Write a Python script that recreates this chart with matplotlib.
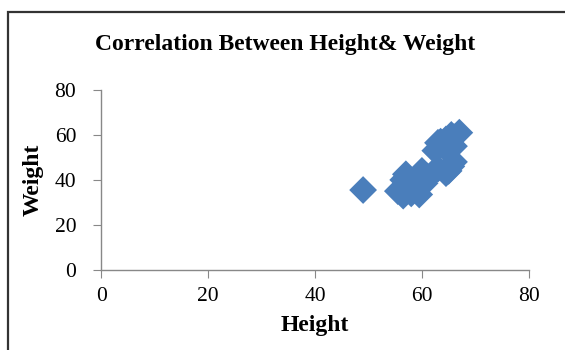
import matplotlib
matplotlib.use("Agg")
import matplotlib.pyplot as plt
from matplotlib.patches import Rectangle

title = "Correlation Between Height& Weight"
x_label = "Height"
y_label = "Weight"
ticks = [0, 20, 40, 60, 80]

height = [49, 55.5, 56.5, 57, 56.5, 57, 58, 59, 60.5, 60, 61, 62, 63, 59.5,
          64.5, 65.5, 66, 65,
          62.5, 63, 64, 64.5, 65, 66, 67, 66, 65.5, 63.5]
weight = [35.5, 35, 33, 37, 40, 42.5, 34, 35.5, 38.5, 44, 41.5, 43, 45, 33.5,
          43, 46, 48, 44,
          53, 56.5, 55, 58, 56, 59, 61, 55, 60, 57]

plt.rcParams['font.family'] = ['Liberation Serif', 'DejaVu Serif']

fig = plt.figure(figsize=(5.65, 3.5), dpi=100)
ax = fig.add_axes([0.179, 0.229, 0.757, 0.514])

ax.scatter(height, weight, marker='D', s=200, color='#4a7ebb', edgecolors='none', zorder=3)

ax.set_xlim(0, 80)
ax.set_ylim(0, 80)
ax.set_xticks(ticks)
ax.set_yticks(ticks)
ax.tick_params(axis='both', labelsize=15.5, length=6, color='#888888', direction='out')
ax.tick_params(axis='y', pad=12)
ax.tick_params(axis='x', pad=6)
for s in ['top', 'right']:
    ax.spines[s].set_visible(False)
for s in ['left', 'bottom']:
    ax.spines[s].set_color('#888888')
    ax.spines[s].set_linewidth(1)

ax.set_xlabel(x_label, fontsize=17, fontweight='bold', labelpad=7)
ax.set_ylabel(y_label, fontsize=17, fontweight='bold', labelpad=8)
fig.text(0.505, 0.872, title, ha='center', va='center', fontsize=17, fontweight='bold')

fig.patches.append(Rectangle((8/565, -0.1), 1.2, 1 - 12/350 + 0.1, transform=fig.transFigure,
                             fill=False, edgecolor='#333333', linewidth=1.6))

fig.savefig("out.png", dpi=100)
